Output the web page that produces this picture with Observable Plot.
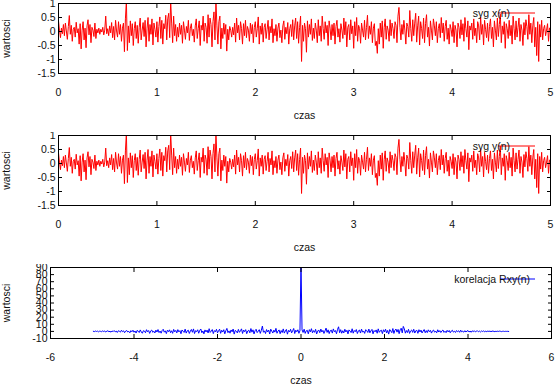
<!DOCTYPE html>
<html>
<head>
<meta charset="utf-8">
<script src="https://cdn.jsdelivr.net/npm/d3@7"></script>
<script src="https://cdn.jsdelivr.net/npm/@observablehq/plot@0.6"></script>
<style>
  html, body { margin: 0; padding: 0; background: #fff; }
  #wrap { position: relative; width: 555px; height: 391px; overflow: hidden; background: #fff; }
  #wrap > svg { position: absolute; left: 0; }
</style>
</head>
<body>
<div id="wrap"></div>
<script>
// ---- data ----
const xTicksSig = [0, 1, 2, 3, 4, 5];
const yTicksSig = [-1.5, -1, -0.5, 0, 0.5, 1];
const xTicksCorr = [-6, -4, -2, 0, 2, 4, 6];
const yTicksCorr = [-10, 0, 10, 20, 30, 40, 50, 60, 70, 80, 90];
const sampleStep = 0.01;      // time between samples of x(n), y(n)
const corrStart = -4.975;     // first lag of Rxy
const corrStep = 0.025;       // lag spacing of Rxy

const sygX = [
 0.38, 0.05, -0.22, 0.12, -0.08, 0.25, -0.15, 0.30, 0.02, -0.28, 0.18, 0.57, -0.10, 0.22, -0.35, 0.08, 0.15, -0.20, 0.33, -0.05,
 0.10, -0.45, 0.28, -0.62, 0.05, 0.35, -0.30, 0.12, -0.58, 0.20, 0.42, -0.12, 0.25, -0.40, 0.15, 0.05, -0.18, 0.30, -0.25, 0.08,
 -0.05, 0.12, -0.10, 0.08, -0.02, 0.15, -0.12, 0.05, 0.55, -0.08, 0.10, -0.15, 0.20, -0.05, 0.32, -0.22, 0.18, -0.30, 0.40, 0.02,
 -0.20, 0.35, -0.10, 0.25, -0.35, 0.12, 0.30, -0.72, 0.45, 1.10, -0.68, 0.20, -0.40, 0.38, -0.15, 0.28, -0.50, 0.10, 0.35, -0.25,
 0.22, -0.42, 0.15, 0.48, -0.30, 0.05, 0.32, -0.18, 0.40, -0.55, 0.12, 0.50, -0.35, 0.25, -0.10, 0.45, -0.48, 0.30, 0.08, -0.20,
 0.35, -0.38, 0.18, 0.52, -0.25, 0.40, -0.45, 0.28, 0.10, 0.58, -0.30, 0.45, 0.65, -0.22, 1.10, 0.30, -0.40, 0.55, -0.15, 0.25,
 -0.35, 0.15, -0.20, 0.30, -0.10, 0.22, -0.42, 0.35, 0.05, -0.28, 0.18, -0.05, 0.40, -0.32, 0.12, 0.28, -0.15, 0.08, -0.38, 0.20,
 0.45, -0.25, 0.10, 0.38, -0.50, 0.22, 0.05, 0.55, -0.35, 0.30, 0.15, -0.42, 0.60, -0.20, 0.48, 0.25, -0.55, 0.35, 0.70, -0.30,
 1.10, 0.20, -0.45, 0.35, 0.55, -0.62, 0.12, -0.25, 0.30, -0.10, 0.25, -0.70, 0.08, -0.30, 0.18, 0.05, -0.20, 0.15, -0.12, 0.30,
 -0.38, 0.48, -0.05, 0.22, -0.30, 0.35, 0.10, -0.45, 0.28, -0.15, 0.40, -0.22, 0.18, 0.05, -0.35, 0.30, -0.08, 0.25, -0.40, 0.15,
 0.35, -0.20, 0.10, 0.52, -0.45, 0.20, -0.10, 0.30, -0.38, 0.15, 0.28, -0.25, 0.08, 0.40, -0.30, 0.18, -0.05, 0.45, -0.40, 0.10,
 -0.15, 0.25, -0.35, 0.12, 0.30, -0.22, 0.05, -0.40, 0.20, 0.38, -0.28, 0.15, -0.08, 0.32, -0.45, 0.10, 0.25, -0.18, 0.42, -0.30,
 0.20, 0.48, -0.25, 0.35, -0.42, 0.15, 0.55, -1.07, 0.22, -0.35, 0.30, 0.10, -0.74, 0.38, -0.20, 0.25, -0.10, 0.45, -0.32, 0.12,
 -0.25, 0.30, 0.05, -0.40, 0.42, -0.15, 0.20, -0.35, 0.55, 0.10, -0.28, 0.35, -0.05, 0.22, -0.50, 0.38, 0.12, -0.30, 0.25, -0.15,
 0.30, -0.45, 0.18, 0.40, -0.20, 0.10, -0.38, 0.28, 0.05, -0.25, 0.48, -0.12, 0.35, -0.55, 0.15, 0.25, -0.30, 0.42, -0.08, 0.20,
 -0.60, 0.35, -0.15, 0.50, -0.35, 0.22, 0.10, -0.42, 0.30, 0.05, -0.20, 0.40, -0.30, 0.15, 0.58, -0.25, 0.20, -0.10, 0.35, -0.40,
 0.12, 0.28, -0.50, -0.35, -0.78, 0.10, -0.45, 0.30, -0.20, 0.38, -0.60, 0.15, 0.45, -0.28, 0.20, 0.05, -0.35, 0.42, -0.15, 0.30,
 0.10, -0.25, 0.35, 0.22, -0.40, 0.55, 0.86, 0.15, -0.30, 0.25, -0.10, 0.40, 0.05, -0.45, 0.30, 0.18, -0.20, 0.75, 0.10, -0.35,
 0.42, -0.15, 0.30, 0.65, -0.38, 0.20, 0.55, -0.48, 0.35, 0.10, -0.25, 0.48, -0.40, 0.28, 0.60, -0.20, 0.15, -0.52, 0.38, 0.05,
 -0.30, 0.45, 0.20, -0.15, 0.35, -0.40, 0.10, 0.28, -0.22, 0.50, -0.05, 0.30, -0.35, 0.18, 0.40, -0.28, 0.12, -0.45, 0.25, 0.08,
 -0.18, 0.35, -0.40, 0.22, 0.05, -0.55, 0.30, 0.15, -0.25, 0.42, -0.12, 0.28, -0.35, 0.50, 0.10, -0.20, 0.38, -0.65, 0.20, 0.05,
 0.30, -0.28, 0.45, -0.15, 0.12, -0.40, 0.35, 0.20, -0.30, 0.52, -0.10, 0.25, -0.48, 0.40, 0.08, -0.22, 0.30, -0.35, 0.18, 0.45,
 -0.25, 0.15, -0.55, 0.38, 0.05, -0.30, 0.48, -0.18, 0.25, 0.62, -0.40, 0.20, -0.10, 0.35, -0.60, 0.28, 0.10, -0.25, 0.40, -0.15,
 0.22, -0.45, 0.55, 0.10, -0.30, 0.38, -0.20, 0.15, 0.48, -0.35, 0.25, 0.05, -0.50, 0.32, -0.12, 0.42, 0.18, -0.28, 0.60, -0.10,
 0.30, -0.40, 0.20, 0.50, -0.55, 0.15, -0.86, 0.35, -1.07, 0.25, -0.20, 0.40, -0.30, 0.10, 0.22, -0.15, 0.05, 0.28, -0.35, 0.12
];
// y(n) is drawn identical to x(n) in the reference
const sygY = sygX.slice();

const korelacja = [
 0.2, -0.3, 0.5, -0.1, 0.4, -0.6, 0.3, 0.1, -0.4, 0.7, -0.2, 0.5, -0.8, 0.3, 0.9, -0.5, 0.2, -1.1, 0.6, -0.3,
 1.2, -0.7, 0.4, -1.5, 0.9, 0.2, -1.0, 1.6, -0.4, 0.8, -1.8, 0.5, 1.3, -0.9, 0.1, -2.0, 1.1, -0.6, 1.7, -1.2,
 0.6, -2.3, 1.4, 0.3, -1.6, 2.1, -0.8, -2.6, 1.0, 0.4, -1.9, 2.4, -0.5, 1.2, -2.8, 0.7, 1.9, -1.3, 0.2, -2.2,
 1.8, -0.9, 2.6, -1.7, 0.5, -2.5, 1.3, 3.0, -1.1, 0.8, -3.1, 1.6, -0.4, 2.2, -1.8, 0.9, -2.7, 2.8, -0.6, 1.4,
 -2.1, 2.5, -0.7, 1.1, -3.3, 2.0, 0.3, -1.5, 3.2, -2.4, 0.8, 1.7, -2.9, 0.5, 2.7, -1.2, 3.5, -3.0, 1.0, -0.3,
 2.3, -2.6, 1.5, 3.4, -1.9, 0.6, -3.5, 2.1, -0.8, 1.8, -2.2, 3.8, -1.4, 0.4, 2.6, -3.1, 1.2, -0.5, 2.9, -2.0,
 0.9, 3.1, -2.7, 1.6, -0.9, 2.4, -3.4, 1.0, 4.2, -1.8, 0.7, -2.5, 2.0, -0.6, 3.3, -3.8, 1.4, 0.2, -2.1, 2.8,
 -1.3, 0.8, 3.6, -2.9, 1.9, -0.4, 2.5, -3.2, 0.6, 1.7, -2.0, 4.0, -1.1, 2.2, -3.6, 0.9, 3.0, -1.7, 0.3, 2.4,
 -2.8, 1.5, 7.5, -1.2, 0.7, -3.0, 2.6, -0.8, 1.9, -3.7, 3.2, 0.4, -2.3, 1.8, -1.0, 4.3, -2.6, 0.5, 2.1, -3.3,
 1.2, -1.6, 3.5, -2.4, 0.6, 2.8, -3.9, 1.4, -0.7, 3.0, -2.1, 0.9, 4.1, -3.0, 1.7, -0.5, 2.3, -2.7, 1.0, 95,
 2.2, -1.5, 3.1, -2.8, 0.8, 1.6, -3.4, 2.5, -0.6, 3.8, -2.0, 1.1, -1.3, 2.9, -3.6, 0.4, 2.0, -1.8, 3.3, -0.9,
 1.5, -2.9, 0.7, 4.6, -1.4, 2.2, -3.1, 0.9, 1.8, -2.4, 3.5, -0.5, 1.2, -3.3, 2.7, 6.5, -1.9, 2.4, -2.6, 1.0,
 -2.2, 3.0, -0.8, 1.6, -3.5, 2.1, 0.5, -1.7, 3.7, -2.5, 1.3, -0.4, 2.6, -3.0, 0.8, 1.9, -2.3, 3.2, -1.1, 0.6,
 -2.8, 2.4, 1.1, -1.5, 3.3, -2.0, 0.7, 2.8, -3.4, 1.2, -0.6, 2.1, -2.6, 3.6, -1.3, 0.9, 1.7, -3.1, 2.3, -0.7,
 3.1, -2.2, 1.4, -3.8, 2.6, 0.5, -1.8, 4.0, -2.9, 1.6, 3.3, -1.0, 2.8, -3.2, 2.2, 4.5, -2.1, 7.0, 3.6, -2.5,
 1.2, -1.6, 2.9, -2.8, 0.6, 2.0, -1.4, 3.0, -2.3, 0.9, 1.5, -2.7, 2.4, -0.8, 1.8, -2.2, 0.5, 2.6, -1.9, 1.1,
 -1.7, 2.2, -0.5, 1.4, -2.4, 0.8, 1.9, -1.2, 0.4, -2.0, 2.3, -0.9, 1.1, -1.6, 0.6, 2.0, -1.4, 0.3, -1.8, 1.5,
 -0.7, 1.3, -1.9, 0.5, 1.6, -1.0, 0.2, -1.5, 1.2, -0.4, 0.9, -1.3, 1.7, -0.6, 0.3, -1.1, 1.0, -0.8, 0.4, 1.2,
 -0.9, 0.5, -1.2, 0.8, -0.3, 1.0, -0.7, 0.2, 0.9, -0.6, 0.4, -0.8, 0.6, -0.2, 0.7, -0.5, 0.3, -0.4, 0.5, -0.1,
 0.4, -0.3, 0.2, 0.6, -0.4, 0.1, -0.2, 0.3, -0.1, 0.4, 0.2, -0.3, 0.1, 0.2, -0.1, 0.1, 0.0, 0.1, -0.1
];

// ---- tables ----
const tabX = sygX.map((v, i) => ({t: i * sampleStep, v}));
const tabY = sygY.map((v, i) => ({t: i * sampleStep, v}));
const tabR = korelacja.map((v, i) => ({t: corrStart + i * corrStep, v}));

const FONT = "Liberation Sans, Arial, sans-serif";
const fmt = d => String(d);

function legendMark(label, color, textEndOff, lineX1Off, lineX2Off, dyOff) {
  return function(...args) {
    const dims = args.find(a => a && typeof a === "object" && "marginRight" in a && "width" in a);
    const right = dims.width - dims.marginRight;
    const y0 = dims.marginTop + dyOff;
    const g = d3.create("svg:g");
    g.append("line")
      .attr("x1", right - lineX1Off).attr("x2", right - lineX2Off)
      .attr("y1", y0).attr("y2", y0)
      .attr("stroke", color).attr("stroke-width", 1);
    g.append("text")
      .attr("x", right - textEndOff).attr("y", y0)
      .attr("dy", "0.35em")
      .attr("text-anchor", "end")
      .attr("fill", "#111")
      .style("font", `10.5px ${FONT}`)
      .text(label);
    return g.node();
  };
}

function panel({data, color, xDomain, yDomain, xTicks, yTicks, height, marginLeft, marginRight, legend, ylabelDx}) {
  return Plot.plot({
    width: 555,
    height,
    marginTop: 3,
    marginBottom: height - 3 - (height === 127 ? 71 : 70),
    marginLeft,
    marginRight,
    style: {fontFamily: FONT, fontSize: "10.5px", color: "#111", background: "transparent"},
    x: {domain: xDomain, label: null},
    y: {domain: yDomain, label: null},
    marks: [
      Plot.line(data, {x: "t", y: "v", stroke: color, strokeWidth: 1, clip: true}),
      Plot.frame({stroke: "#000", strokeWidth: 1}),
      Plot.axisX({ticks: xTicks, tickSize: -4, tickPadding: 19, tickFormat: fmt, label: null, stroke: "#000"}),
      Plot.axisX({anchor: "top", ticks: xTicks, tickSize: -4, tickFormat: () => "", label: null, stroke: "#000"}),
      Plot.axisY({ticks: yTicks, tickSize: -4, tickPadding: 7, tickFormat: fmt, label: null, stroke: "#000"}),
      Plot.axisY({anchor: "right", ticks: yTicks, tickSize: -4, tickFormat: () => "", label: null, stroke: "#000"}),
      Plot.text(["czas"], {frameAnchor: "bottom", dy: 42, lineAnchor: "middle", fill: "#111"}),
      Plot.text(["wartosci"], {frameAnchor: "left", dx: ylabelDx, rotate: -90, lineAnchor: "middle", textAnchor: "middle", fill: "#111"}),
      legend
    ]
  });
}

const wrap = document.getElementById("wrap");

const p1 = panel({
  data: tabX, color: "#ff0000", xDomain: [0, 5], yDomain: [-1.5, 1],
  xTicks: xTicksSig, yTicks: yTicksSig, height: 132, marginLeft: 58, marginRight: 5,
  legend: legendMark("syg x(n)", "#ff0000", 40, 52, 15, 10), ylabelDx: -52
});
p1.style.top = "0px";
wrap.appendChild(p1);

const p2 = panel({
  data: tabY, color: "#ff0000", xDomain: [0, 5], yDomain: [-1.5, 1],
  xTicks: xTicksSig, yTicks: yTicksSig, height: 132, marginLeft: 58, marginRight: 5,
  legend: legendMark("syg y(n)", "#ff0000", 40, 52, 15, 11), ylabelDx: -52
});
p2.style.top = "132px";
wrap.appendChild(p2);

const p3 = panel({
  data: tabR, color: "#0000ff", xDomain: [-6, 6], yDomain: [-10, 90],
  xTicks: xTicksCorr, yTicks: yTicksCorr, height: 127, marginLeft: 50, marginRight: 4,
  legend: legendMark("korelacja Rxy(n)", "#0000ff", 21, 51, 16, 12), ylabelDx: -44
});
p3.style.top = "264px";
wrap.appendChild(p3);
</script>
</body>
</html>
